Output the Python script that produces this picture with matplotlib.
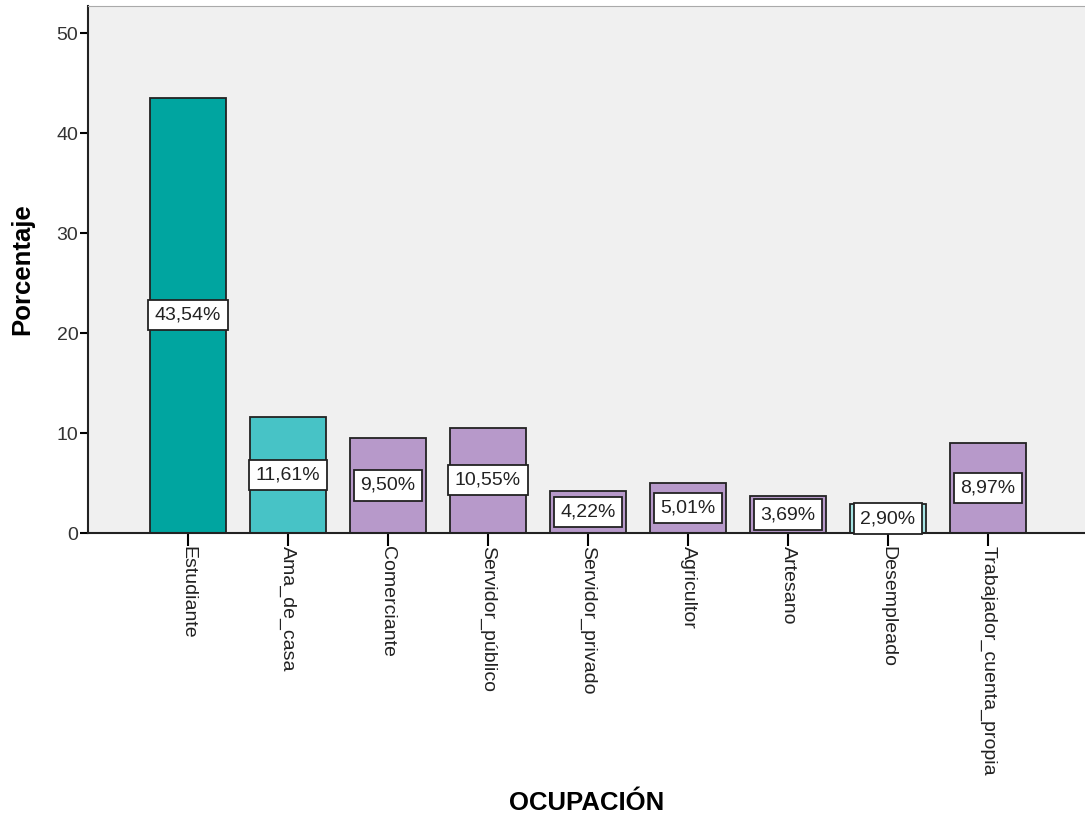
import matplotlib
matplotlib.use('Agg')
import matplotlib.pyplot as plt

plt.rcParams['font.family'] = ['Liberation Sans', 'DejaVu Sans']

# datos de ocupación (porcentaje)
categorias = ['Estudiante', 'Ama_de_casa', 'Comerciante', 'Servidor_público',
              'Servidor_privado', 'Agricultor', 'Artesano', 'Desempleado',
              'Trabajador_cuenta_propia']
porcentajes = [43.54, 11.61, 9.50, 10.55, 4.22, 5.01, 3.69, 2.90, 8.97]
etiquetas = ['43,54%', '11,61%', '9,50%', '10,55%', '4,22%', '5,01%', '3,69%', '2,90%', '8,97%']
colores = ['#00A5A0', '#47C3C6', '#B799CA', '#B799CA', '#B799CA',
           '#B799CA', '#B799CA', '#A6E4E4', '#B799CA']

fig = plt.figure(figsize=(10.85, 8.18), dpi=100)
ax = fig.add_axes([88/1085, 1 - 533/818, 1 - 88/1085, (533 - 6)/818])
ax.set_facecolor('#F0F0F0')

x = list(range(len(categorias)))
ax.bar(x, porcentajes, width=0.76, color=colores, edgecolor='#222222', linewidth=1.3, zorder=2)

for xi, v, t in zip(x, porcentajes, etiquetas):
    ax.text(xi, v / 2, t, ha='center', va='center', fontsize=14, color='#222222', zorder=3,
            bbox=dict(boxstyle='square,pad=0.34', facecolor='white', edgecolor='#222222', linewidth=1.3))

ax.set_xlim(-1.0, 8.97)
ax.set_ylim(0, 52.7)
ax.set_yticks([0, 10, 20, 30, 40, 50])
ax.set_xticks(x)
ax.set_xticklabels(categorias, rotation=270, fontsize=14, color='#222222')
ax.tick_params(axis='y', labelsize=14, labelcolor='#333333', length=6, width=1.5, direction='out', pad=1)
ax.tick_params(axis='x', length=9, width=1.5, direction='out', pad=0)

for s in ['left', 'bottom']:
    ax.spines[s].set_linewidth(1.5)
    ax.spines[s].set_color('#222222')
ax.spines['top'].set_color('#AAAAAA')
ax.spines['right'].set_visible(False)

ax.set_ylabel('Porcentaje', fontsize=18.5, fontweight='bold', labelpad=16)
fig.text(0.5 * (88 + 1085) / 1085, 1 - 803/818, 'OCUPACIÓN', ha='center', va='center',
         fontsize=18.5, fontweight='bold')

fig.savefig('out.png', dpi=100)
